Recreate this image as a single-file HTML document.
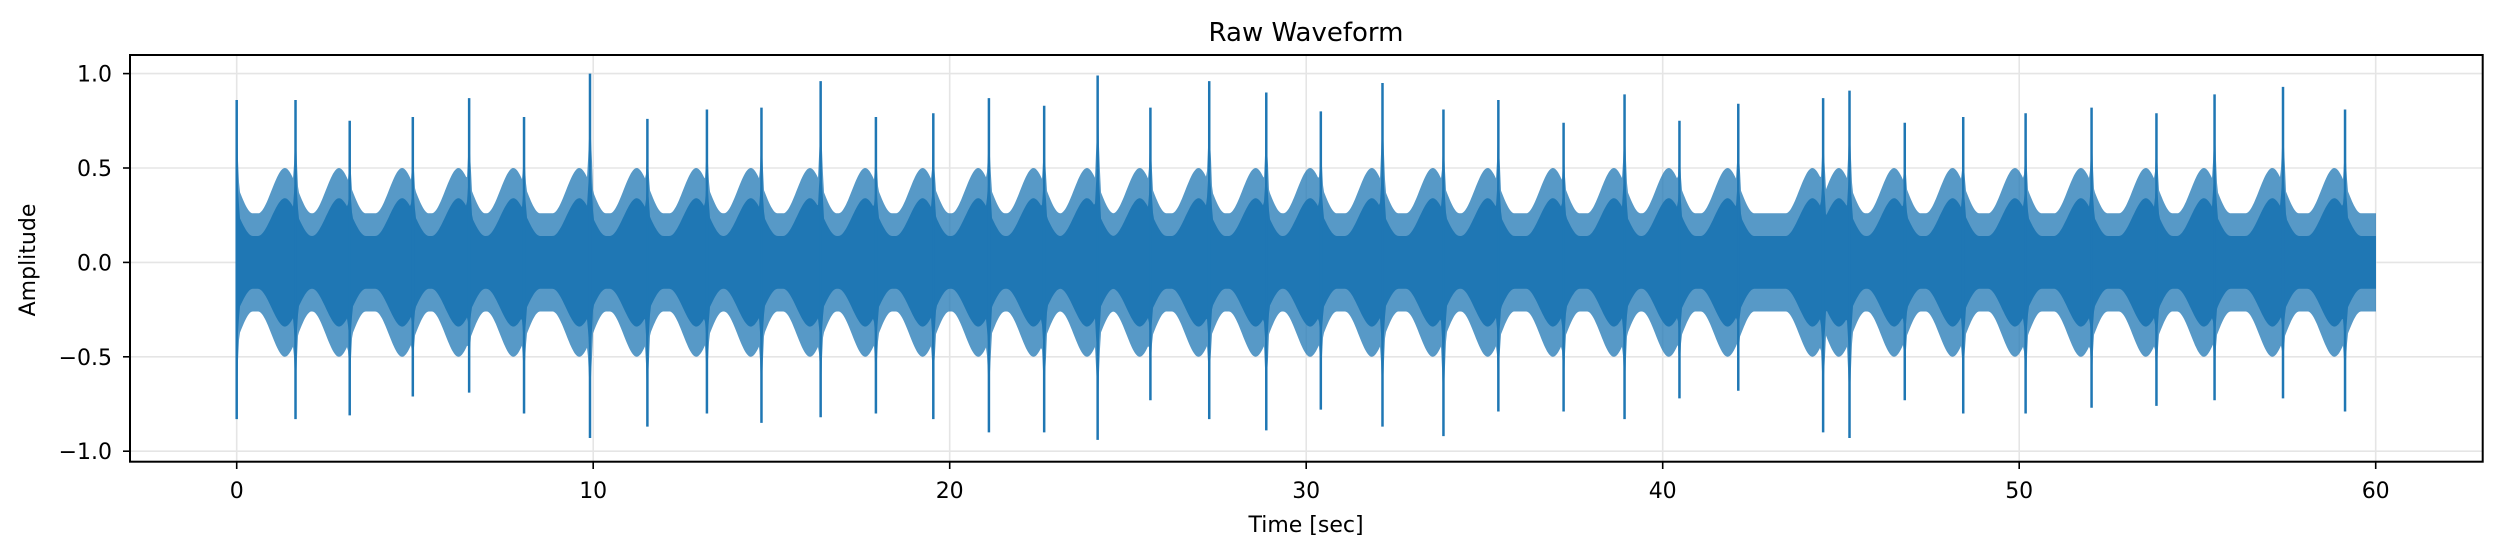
<!DOCTYPE html>
<html><head><meta charset="utf-8"><style>
html,body{margin:0;padding:0;background:#fff;}
svg{display:block;font-family:"DejaVu Sans","Liberation Sans",sans-serif;}
</style></head><body>
<svg id="chart" width="2500" height="555" viewBox="0 0 2500 555">
<rect x="0" y="0" width="2500" height="555" fill="#fff"/>
<g id="grid"></g>
<g id="wave"></g>
<rect x="130" y="55" width="2352.7" height="406.7" fill="none" stroke="#000" stroke-width="2"/>
<g id="ticks"></g>
<text x="1306" y="41" font-size="26" text-anchor="middle">Raw Waveform</text>
<text x="1306" y="532" font-size="22" text-anchor="middle">Time [sec]</text>
<text x="0" y="0" font-size="22" text-anchor="middle" transform="translate(35,260) rotate(-90)">Amplitude</text>
</svg>
<script>
const xTicks = [0, 10, 20, 30, 40, 50, 60];
const yTicks = [-1.0, -0.5, 0.0, 0.5, 1.0];
const yTickLabels = ["\u22121.0", "\u22120.5", "0.0", "0.5", "1.0"];
const spikeTimes = [0, 1.65, 3.17, 4.94, 6.52, 8.06, 9.91, 11.52, 13.19, 14.72, 16.38, 17.93, 19.54,
  21.1, 22.65, 24.15, 25.63, 27.28, 28.88, 30.41, 32.14, 33.85, 35.39, 37.22, 38.93,
  40.47, 42.12, 44.5, 45.24, 46.79, 48.43, 50.18, 52.03, 53.85, 55.48, 57.4, 59.14];
const spikeUpper = [0.86, 0.86, 0.75, 0.77, 0.87, 0.77, 1.0, 0.76, 0.81, 0.82, 0.96, 0.77, 0.79,
  0.87, 0.83, 0.99, 0.82, 0.96, 0.9, 0.8, 0.95, 0.81, 0.86, 0.74, 0.89,
  0.75, 0.84, 0.87, 0.91, 0.74, 0.77, 0.79, 0.82, 0.79, 0.89, 0.93, 0.81];
const spikeLower = [-0.83, -0.83, -0.81, -0.71, -0.69, -0.8, -0.93, -0.87, -0.8, -0.85, -0.82, -0.8, -0.83,
  -0.9, -0.9, -0.94, -0.73, -0.83, -0.89, -0.78, -0.87, -0.92, -0.79, -0.79, -0.83,
  -0.72, -0.68, -0.9, -0.93, -0.73, -0.8, -0.8, -0.77, -0.76, -0.73, -0.72, -0.79];
const tStart = 0, tEnd = 60;

const NS = "http://www.w3.org/2000/svg";
const X0 = 236.7, XK = (2375.7 - 236.7) / 60;
const Y0 = 262.4, YK = 188.8;
function xs(t){ return X0 + t * XK; }
function ys(v){ return Y0 - v * YK; }

const grid = document.getElementById('grid');
const ticks = document.getElementById('ticks');
xTicks.forEach(function(t){
  const g = document.createElementNS(NS,'line');
  g.setAttribute('x1', xs(t)); g.setAttribute('x2', xs(t)); g.setAttribute('y1', 55); g.setAttribute('y2', 461.7);
  g.setAttribute('stroke', '#e5e5e5'); g.setAttribute('stroke-width', 1.6);
  
  
  grid.appendChild(g);
  const tk = document.createElementNS(NS,'line');
  tk.setAttribute('x1', xs(t)); tk.setAttribute('x2', xs(t)); tk.setAttribute('y1', 461.7); tk.setAttribute('y2', 469);
  tk.setAttribute('stroke', '#000'); tk.setAttribute('stroke-width', 1.6);
  
  
  ticks.appendChild(tk);
  const tx = document.createElementNS(NS,'text');
  tx.setAttribute('x', xs(t)); tx.setAttribute('y', 498); tx.setAttribute('font-size', 22); tx.setAttribute('text-anchor', 'middle');
  tx.textContent = String(t);
  
  
  ticks.appendChild(tx);
});
yTicks.forEach(function(v, i){
  const g = document.createElementNS(NS,'line');
  g.setAttribute('x1', 130); g.setAttribute('x2', 2482.7); g.setAttribute('y1', ys(v)); g.setAttribute('y2', ys(v));
  g.setAttribute('stroke', '#e5e5e5'); g.setAttribute('stroke-width', 1.6);
  
  
  grid.appendChild(g);
  const tk = document.createElementNS(NS,'line');
  tk.setAttribute('x1', 123); tk.setAttribute('x2', 130); tk.setAttribute('y1', ys(v)); tk.setAttribute('y2', ys(v));
  tk.setAttribute('stroke', '#000'); tk.setAttribute('stroke-width', 1.6);
  
  
  ticks.appendChild(tk);
  const tx = document.createElementNS(NS,'text');
  tx.setAttribute('x', 112); tx.setAttribute('y', ys(v) + 8); tx.setAttribute('font-size', 22); tx.setAttribute('text-anchor', 'end');
  tx.textContent = yTickLabels[i];
  
  
  ticks.appendChild(tx);
});

function smooth(x){ x = Math.max(0, Math.min(1, x)); return x * x * (3 - 2 * x); }
function env(t, sign){
  let core = 0.14, outer = 0.26;
  for (let i = 0; i < spikeTimes.length; i++){
    const ts = spikeTimes[i];
    const amp = sign > 0 ? spikeUpper[i] : -spikeLower[i];
    const d = t - ts;
    const lobe = smooth(1 - Math.abs(d + 0.3) / 0.75);
    core = Math.max(core, 0.14 + 0.2 * lobe);
    outer = Math.max(outer, 0.26 + 0.24 * lobe);
    const sharp = Math.max(0, 1 - Math.abs(d) / 0.06);
    const shoulder = smooth(1 - Math.abs(d) / 0.18);
    outer = Math.max(outer, amp * sharp, 0.7 * amp * shoulder);
    core = Math.max(core, 0.7 * amp * sharp, 0.5 * amp * shoulder);
  }
  return [core, outer];
}
const wave = document.getElementById('wave');
const x1 = Math.round(xs(tStart)), x2 = Math.round(xs(tEnd));
let outerTop = [], outerBot = [], coreTop = [], coreBot = [];
for (let px = x1; px <= x2; px++){
  const t = (px - X0) / XK;
  const u = env(t, 1), l = env(t, -1);
  outerTop.push(px + ',' + ys(u[1]).toFixed(1));
  outerBot.push(px + ',' + ys(-l[1]).toFixed(1));
  coreTop.push(px + ',' + ys(u[0]).toFixed(1));
  coreBot.push(px + ',' + ys(-l[0]).toFixed(1));
}
const outerP = document.createElementNS(NS,'polygon');
outerP.setAttribute('points', outerTop.concat(outerBot.reverse()).join(' '));
outerP.setAttribute('fill', '#1f77b4'); outerP.setAttribute('fill-opacity', '0.75');


wave.appendChild(outerP);
const coreP = document.createElementNS(NS,'polygon');
coreP.setAttribute('points', coreTop.concat(coreBot.reverse()).join(' '));
coreP.setAttribute('fill', '#1f77b4');


wave.appendChild(coreP);
spikeTimes.forEach(function(ts, i){
  const s = document.createElementNS(NS,'line');
  s.setAttribute('x1', xs(ts)); s.setAttribute('x2', xs(ts));
  s.setAttribute('y1', ys(spikeUpper[i])); s.setAttribute('y2', ys(spikeLower[i]));
  s.setAttribute('stroke', '#1f77b4'); s.setAttribute('stroke-width', 2.5);
  
  
  wave.appendChild(s);
});
</script>
</body></html>
